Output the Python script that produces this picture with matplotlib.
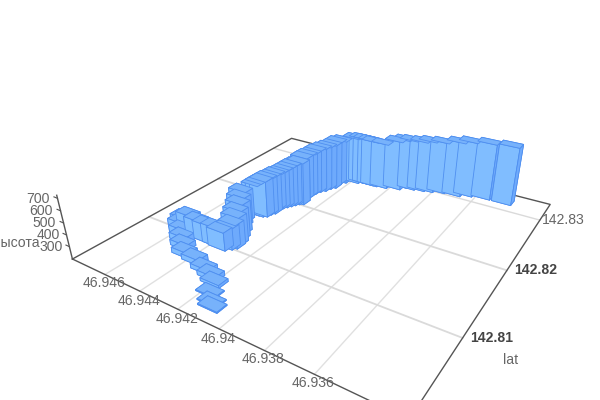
import numpy as np
import matplotlib
matplotlib.use('Agg')
import matplotlib.pyplot as plt

lon = [46.94111,46.94133,46.94176,46.94206,46.94244,46.94299,46.94376,46.94446,46.94495,46.94537,46.94579,46.94614,46.94626,46.94569,46.94504,46.94448,46.94398,46.94359,46.94339,46.94326,46.94331,46.94351,46.94376,46.94413,46.94435,46.94424,46.94402,46.94386,46.94382,46.94372,46.94380,46.94370,46.94360,46.94349,46.94339,46.94329,46.94312,46.94326,46.94327,46.94323,46.94314,46.94298,46.94289,46.94274,46.94277,46.94261,46.94206,46.94180,46.94157,46.94128,46.94108,46.94058,46.93994,46.93969,46.93932,46.93883,46.93843,46.93789,46.93712,46.93662,46.93577,46.93473]
lat = [142.80308,142.80352,142.80431,142.80551,142.80600,142.80642,142.80699,142.80727,142.80811,142.80888,142.80969,142.81030,142.81090,142.81057,142.81023,142.81009,142.81007,142.80994,142.81041,142.81079,142.81133,142.81209,142.81302,142.81408,142.81493,142.81650,142.81655,142.81677,142.81730,142.81768,142.81856,142.81895,142.81934,142.81973,142.82013,142.82052,142.82075,142.82187,142.82266,142.82326,142.82394,142.82442,142.82511,142.82560,142.82672,142.82723,142.82788,142.82823,142.82826,142.82824,142.82827,142.82846,142.82896,142.82966,142.82971,142.82999,142.83026,142.83071,142.83093,142.83152,142.83188,142.83191]
height = [200,200,200,215,229,229,236,236,237,243,251,266,279,345,349,351,357,350,370,397,433,444,456,450,462,466,495,515,520,525,514,517,529,541,555,565,578,580,578,575,588,598,597,605,600,600,625,625,625,625,620,615,650,650,660,660,670,670,695,700,710,725]

x_ticks = [46.946,46.944,46.942,46.94,46.938,46.936]
y_ticks = [142.81,142.82,142.83]
z_ticks = [300,400,500,600,700]
x_labels = ['46.946','46.944','46.942','46.94','46.938','46.936']
y_labels = ['142.81','142.82','142.83']
z_labels = ['300','400','500','600','700']

XLIM = (46.94802,46.93269)
YLIM = (142.80126,142.83375)
ZLIM = (191.56,723.95)
BAR_DX, BAR_DY = 0.00095, 0.00115

plt.rcParams['font.family'] = ['Liberation Sans','DejaVu Sans']
fig = plt.figure(figsize=(6,4), dpi=100, facecolor='white')
S, cx, cy = 489.4751, 323.1268, 206.9525
ax = fig.add_axes([(cx-S/2)/600,(400-cy-S/2)/400,S/600,S/400], projection='3d', computed_zorder=False)
ax.set_axis_off()
ax.patch.set_alpha(0)
ax.set_autoscale_on(False)
ax.view_init(elev=28.39441, azim=-57.33417)
ax.set_box_aspect((1,1.00312,0.19389))
ax.set_proj_type('persp', focal_length=0.22529)
ax.set_xlim(*XLIM); ax.set_ylim(*YLIM); ax.set_zlim(*ZLIM)

z0 = ZLIM[0]
for t in x_ticks:
    ax.plot([t,t],YLIM,[z0,z0],color='#e0e0e0',lw=1.0,zorder=1,clip_on=False)
for i,t in enumerate(y_ticks):
    ax.plot(XLIM,[t,t],[z0,z0],color='#dadada',lw=1.3 if i<2 else 1.0,zorder=1,clip_on=False)
ex = [XLIM[0],XLIM[0],XLIM[1],XLIM[1],XLIM[0]]
ey = [YLIM[0],YLIM[1],YLIM[1],YLIM[0],YLIM[0]]
ax.plot(ex,ey,[z0]*5,color='#555555',lw=1.0,zorder=2,clip_on=False)
ax.plot([XLIM[0]]*2,[YLIM[0]]*2,ZLIM,color='#555555',lw=1.0,zorder=2,clip_on=False)
for t in z_ticks:
    ax.plot([XLIM[0],XLIM[0]+0.00022],[YLIM[0]]*2,[t,t],color='#555555',lw=0.8,zorder=2,clip_on=False)

lon_a = np.array(lon); lat_a = np.array(lat); h_a = np.array(height,float)
faces = []
for _ in lon:
    faces += ['#7ab4ff','#77b2fb','#80bdff','#80bdff','#6eaafc','#6eaafc']
ax.bar3d(lon_a-BAR_DX/2, lat_a-BAR_DY/2, np.full(len(lon),z0), BAR_DX, BAR_DY, h_a-z0,
         color=faces, edgecolor='#4f8ff0', linewidth=0.6, shade=False, zorder=3)
ax.set_xlim(*XLIM); ax.set_ylim(*YLIM); ax.set_zlim(*ZLIM)

def label(px,py,s,ha='center',color='#666666',**kw):
    fig.text(px/600,1-py/400,s,ha=ha,va='center',fontsize=10.1,color=color,**kw)

for s,(px,py) in zip(x_labels,[(104,283),(139,301),(177,319),(218,339),(263,359),(313,383)]):
    label(px,py,s)
for s,(px,py),c,w in zip(y_labels,[(492,338),(536,270),(563,220)],['#444444','#444444','#666666'],['bold','bold','normal']):
    label(px,py,s,color=c,fontweight=w)
for s,(px,py) in zip(z_labels,[(51,247),(48,235),(44,223),(41,211),(38,199)]):
    label(px,py,s)
label(40,243,'высота',ha='right')
label(511,360,'lat')
fig.savefig('out.png',dpi=100)
